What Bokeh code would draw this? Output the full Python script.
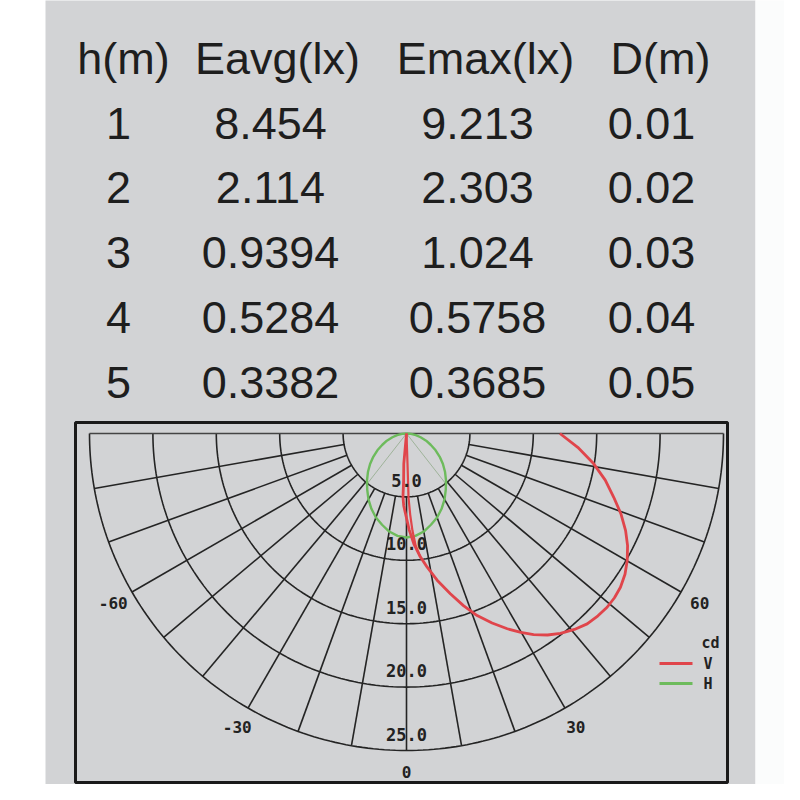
import numpy as np
from bokeh.plotting import figure
from bokeh.models import Range1d
from bokeh.core.properties import value
from bokeh.embed import file_html
from bokeh.resources import INLINE

# ---------------- table data ----------------
HEADERS = ["h(m)", "Eavg(lx)", "Emax(lx)", "D(m)"]
H_M = ["1", "2", "3", "4", "5"]
E_AVG = ["8.454", "2.114", "0.9394", "0.5284", "0.3382"]
E_MAX = ["9.213", "2.303", "1.024", "0.5758", "0.3685"]
D_M = ["0.01", "0.02", "0.03", "0.04", "0.05"]

# ---------------- polar grid ----------------
RINGS = [5, 10, 15, 20, 25]
RING_LABELS = ["5.0", "10.0", "15.0", "20.0", "25.0"]
SPOKES = [-80, -70, -60, -50, -40, -30, -20, -10, 0, 10, 20, 30, 40, 50, 60, 70, 80]
ANGLE_TICKS = [-60, -30, 0, 30, 60]
ANGLE_LABELS = ["-60", "-30", "0", "30", "60"]
BEAM_ANGLES = [-38, 38]

# ---------------- curves (angle in degrees, intensity in cd) ----------------
V_ANGLE = [-6, -5.1, -3.5, -3.2, -2.2, -0.7, 1.6, 3.8, 6.3, 8.8, 12.0, 15.3, 18.3, 21.2,
           24.3, 27.3, 29.9, 32.3, 35.0, 37.6, 40.6, 43.5, 46.4, 49.1, 51.7, 54.3,
           57.2, 60.1, 63.1, 66.1, 69.5, 72.9, 76.8, 80.8, 85.4, 90]
V_CD = [0, 2.4, 3.7, 5.0, 5.7, 6.33, 7.6, 8.72, 9.75, 10.67, 11.9, 13.1, 14.3, 15.4,
        16.4, 17.33, 18.1, 18.76, 19.4, 19.9, 20.35, 20.7, 20.85, 20.93, 20.9, 20.78,
        20.5, 20.08, 19.55, 18.9, 18.05, 17.1, 16.1, 14.96, 13.55, 12.1]
V2_ANGLE = [0, 1.9, 1.8, 2.6, 3.5, 4.7, 6.3]
V2_CD = [0, 2.37, 5.05, 6.4, 7.67, 8.9, 9.75]
H_ANGLE = [-90, -85, -80, -75, -70, -65, -60, -55, -50, -45, -40, -35, -30, -25, -20, -15,
           -10, -5, 0, 5, 10, 15, 20, 25, 30, 35, 40, 45, 50, 55, 60, 65, 70, 75, 80, 85, 90]
H_CD = [0, 0.35, 0.75, 1.15, 1.65, 2.1, 2.65, 3.2, 3.75, 4.3, 4.85, 5.4, 6.0, 6.55, 7.05,
        7.45, 7.85, 8.1, 8.2, 8.1, 7.85, 7.45, 7.05, 6.55, 6.0, 5.4, 4.85, 4.3, 3.75, 3.2,
        2.65, 2.1, 1.65, 1.15, 0.75, 0.35, 0]

# ---------------- layout (page pixels) ----------------
CX, CY, S = 406.0, 433.0, 12.68
GRID = "#242424"
BG = "#d2d3d5"


def to_xy(theta, r):
    t = np.radians(np.asarray(theta, dtype=float))
    r = np.asarray(r, dtype=float)
    return CX + S * r * np.sin(t), CY + S * r * np.cos(t)


p = figure(width=784, height=784, x_range=Range1d(0, 784), y_range=Range1d(784, 0),
           x_axis_location=None, y_axis_location=None, toolbar_location=None,
           output_backend="svg", min_border=0)
p.grid.visible = False
p.outline_line_color = None
p.background_fill_color = "#ffffff"
p.border_fill_color = "#ffffff"

# background panel
p.quad(left=[45], right=[755], top=[-20], bottom=[820], fill_color=BG, line_color=None)
p.quad(left=[755], right=[820], top=[-20], bottom=[820], fill_color="#fbfcfc", line_color=None)

# table
font = value("Liberation Sans")
p.text(x=[123, 277, 485, 660], y=[58] * 4, text=HEADERS, text_font=font,
       text_font_size="45px", text_align="center", text_baseline="middle", text_color="#1e1e1e")
rows_y = [123, 187, 252, 317, 382]
for cx, col in zip([118, 270, 477, 651], [H_M, E_AVG, E_MAX, D_M]):
    p.text(x=[cx] * len(col), y=rows_y, text=col, text_font=font,
           text_font_size="45px", text_align="center", text_baseline="middle", text_color="#1e1e1e")

# polar chart frame
p.quad(left=[75], right=[727], top=[422], bottom=[782], fill_color=None,
       line_color="#1a1a1a", line_width=3)

# rings
arc_t = np.linspace(-90, 90, 181)
xs, ys = [], []
for r in RINGS:
    x, y = to_xy(arc_t, np.full_like(arc_t, r))
    xs.append(list(x)); ys.append(list(y))
p.multi_line(xs=xs, ys=ys, line_color=GRID, line_width=1.6)

# spokes
xs, ys = [], []
for a in SPOKES:
    x, y = to_xy([a, a], [RINGS[0], RINGS[-1]])
    xs.append(list(x)); ys.append(list(y))
p.multi_line(xs=xs, ys=ys, line_color=GRID, line_width=1.6)

# top line
x, y = to_xy([-90, 90], [RINGS[-1], RINGS[-1]])
p.line(x=list(x), y=list(y), line_color="#444444", line_width=1.5)

# beam lines
xs, ys = [], []
for a in BEAM_ANGLES:
    x, y = to_xy([a, a], [0, RINGS[0]])
    xs.append(list(x)); ys.append(list(y))
p.multi_line(xs=xs, ys=ys, line_color="#9fb39a", line_width=1)

# curves
x, y = to_xy(H_ANGLE, H_CD)
p.line(x=list(x), y=list(y), line_color="#6dbb5c", line_width=2.4)
x, y = to_xy(V_ANGLE, V_CD)
p.line(x=list(x), y=list(y), line_color="#e0454b", line_width=2.8, line_join="round")
x, y = to_xy(V2_ANGLE, V2_CD)
p.line(x=list(x), y=list(y), line_color="#e0454b", line_width=2.2, line_join="round")

# ring labels
mono = value("DejaVu Sans Mono")
lx, ly = to_xy([0] * len(RINGS), [r - 1.3 for r in RINGS])
p.text(x=list(lx), y=list(ly), text=RING_LABELS, text_font=mono, text_font_size="17px",
       text_font_style="bold", text_align="center", text_baseline="middle", text_color="#222222")

# angle labels
ax, ay = to_xy(ANGLE_TICKS, [26.7] * len(ANGLE_TICKS))
p.text(x=list(ax), y=list(ay), text=ANGLE_LABELS, text_font=mono, text_font_size="16px",
       text_font_style="bold", text_align="center", text_baseline="middle", text_color="#222222")

# legend
p.line(x=[659, 692], y=[663, 663], line_color="#e0454b", line_width=3)
p.line(x=[659, 692], y=[683, 683], line_color="#6dbb5c", line_width=3)
p.text(x=[701, 703, 703], y=[642, 663, 683], text=["cd", "V", "H"], text_font=mono,
       text_font_size="15px", text_font_style="bold", text_align="left", text_baseline="middle",
       text_color="#222222")

open("out.html", "w").write(file_html(p, INLINE))
